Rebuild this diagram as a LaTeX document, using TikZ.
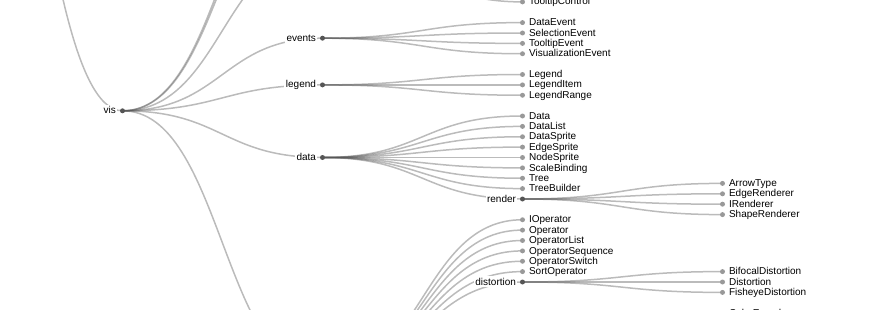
\documentclass[tikz,border=0pt]{standalone}
\usepackage{fontspec}
\setmainfont{Liberation Sans}
\usetikzlibrary{backgrounds}
\definecolor{linkgray}{HTML}{555555}
\definecolor{leafgray}{HTML}{999999}

\begin{document}
\begin{tikzpicture}[
    x=0.75pt, y=-0.75pt,
    dot/.style={circle, inner sep=0pt, minimum size=3.75pt},
    leaftext/.style={anchor=base west, inner sep=0pt, label distance=2.625pt,
                     yshift=-2.325pt, font=\fontsize{7.5}{9}\selectfont},
    branchtext/.style={anchor=base east, inner sep=1.125pt, fill=white, label distance=1.5pt,
                       yshift=-2.325pt, font=\fontsize{7.5}{9}\selectfont},
    leafnode/.style={dot, fill=leafgray, label={[leaftext]right:#1}},
    branchnode/.style={dot, fill=linkgray, label={[branchtext]left:#1}},
    link/.style={draw=linkgray, draw opacity=0.4, line width=1.125pt,
                 controls={+(100,0) and +(-100,0)}}
]
\useasboundingbox (0,0) rectangle (888,310);

% Off-screen ends
\coordinate (flare) at (-77.5,-599);
\coordinate (visualization) at (322.5,-153.75);
\coordinate (axis) at (322.5,-143.4);
\coordinate (controls) at (322.5,-50);
\coordinate (operator) at (322.5,375.4);

% Branches
\node[branchnode=vis] (vis) at (122.5,110.8) {};
\node[branchnode=events] (events) at (322.5,38.2) {};
\node[branchnode=legend] (legend) at (322.5,84.9) {};
\node[branchnode=data] (data) at (322.5,157.5) {};
\node[branchnode=render] (render) at (522.5,199) {};
\node[branchnode=distortion] (distortion) at (522.5,282) {};

% Leaves
\node[leafnode=TooltipControl] (tooltipcontrol) at (522.5,1.9) {};
\node[leafnode=DataEvent] (dataevent) at (522.5,22.6) {};
\node[leafnode=SelectionEvent] (selectionevent) at (522.5,33) {};
\node[leafnode=TooltipEvent] (tooltipevent) at (522.5,43.4) {};
\node[leafnode=VisualizationEvent] (visualizationevent) at (522.5,53.75) {};
\node[leafnode=Legend] (legenditem0) at (522.5,74.5) {};
\node[leafnode=LegendItem] (legenditem) at (522.5,84.9) {};
\node[leafnode=LegendRange] (legendrange) at (522.5,95.25) {};
\node[leafnode=Data] (data0) at (522.5,116) {};
\node[leafnode=DataList] (datalist) at (522.5,126.4) {};
\node[leafnode=DataSprite] (datasprite) at (522.5,136.75) {};
\node[leafnode=EdgeSprite] (edgesprite) at (522.5,147.1) {};
\node[leafnode=NodeSprite] (nodesprite) at (522.5,157.5) {};
\node[leafnode=ScaleBinding] (scalebinding) at (522.5,167.9) {};
\node[leafnode=Tree] (tree) at (522.5,178.25) {};
\node[leafnode=TreeBuilder] (treebuilder) at (522.5,188.6) {};
\node[leafnode=ArrowType] (arrowtype) at (722.5,183.4) {};
\node[leafnode=EdgeRenderer] (edgerenderer) at (722.5,193.8) {};
\node[leafnode=IRenderer] (irenderer) at (722.5,204.2) {};
\node[leafnode=ShapeRenderer] (shaperenderer) at (722.5,214.6) {};
\node[leafnode=IOperator] (ioperator) at (522.5,219.75) {};
\node[leafnode=Operator] (operator0) at (522.5,230.1) {};
\node[leafnode=OperatorList] (operatorlist) at (522.5,240.5) {};
\node[leafnode=OperatorSequence] (operatorsequence) at (522.5,250.9) {};
\node[leafnode=OperatorSwitch] (operatorswitch) at (522.5,261.25) {};
\node[leafnode=SortOperator] (sortoperator) at (522.5,271.6) {};
\node[leafnode=BifocalDistortion] (bifocaldistortion) at (722.5,271.6) {};
\node[leafnode=Distortion] (distortion0) at (722.5,282) {};
\node[leafnode=FisheyeDistortion] (fisheyedistortion) at (722.5,292.4) {};
\node[leafnode=ColorEncoder] (colorencoder) at (722.5,313.1) {};

% Links
\begin{scope}[on background layer]
\draw[link] (flare) to (vis.center);
\draw[link] (vis.center) to (visualization);
\draw[link] (vis.center) to (axis);
\draw[link] (vis.center) to (controls);
\draw[link] (vis.center) to (events.center);
\draw[link] (vis.center) to (legend.center);
\draw[link] (vis.center) to (data.center);
\draw[link] (vis.center) to (operator);
\draw[link] (controls) to (tooltipcontrol.center);
\draw[link] (events.center) to (dataevent.center);
\draw[link] (events.center) to (selectionevent.center);
\draw[link] (events.center) to (tooltipevent.center);
\draw[link] (events.center) to (visualizationevent.center);
\draw[link] (legend.center) to (legenditem0.center);
\draw[link] (legend.center) to (legenditem.center);
\draw[link] (legend.center) to (legendrange.center);
\draw[link] (data.center) to (data0.center);
\draw[link] (data.center) to (datalist.center);
\draw[link] (data.center) to (datasprite.center);
\draw[link] (data.center) to (edgesprite.center);
\draw[link] (data.center) to (nodesprite.center);
\draw[link] (data.center) to (scalebinding.center);
\draw[link] (data.center) to (tree.center);
\draw[link] (data.center) to (treebuilder.center);
\draw[link] (data.center) to (render.center);
\draw[link] (render.center) to (arrowtype.center);
\draw[link] (render.center) to (edgerenderer.center);
\draw[link] (render.center) to (irenderer.center);
\draw[link] (render.center) to (shaperenderer.center);
\draw[link] (operator) to (ioperator.center);
\draw[link] (operator) to (operator0.center);
\draw[link] (operator) to (operatorlist.center);
\draw[link] (operator) to (operatorsequence.center);
\draw[link] (operator) to (operatorswitch.center);
\draw[link] (operator) to (sortoperator.center);
\draw[link] (operator) to (distortion.center);
\draw[link] (distortion.center) to (bifocaldistortion.center);
\draw[link] (distortion.center) to (distortion0.center);
\draw[link] (distortion.center) to (fisheyedistortion.center);
\end{scope}

\end{tikzpicture}
\end{document}
